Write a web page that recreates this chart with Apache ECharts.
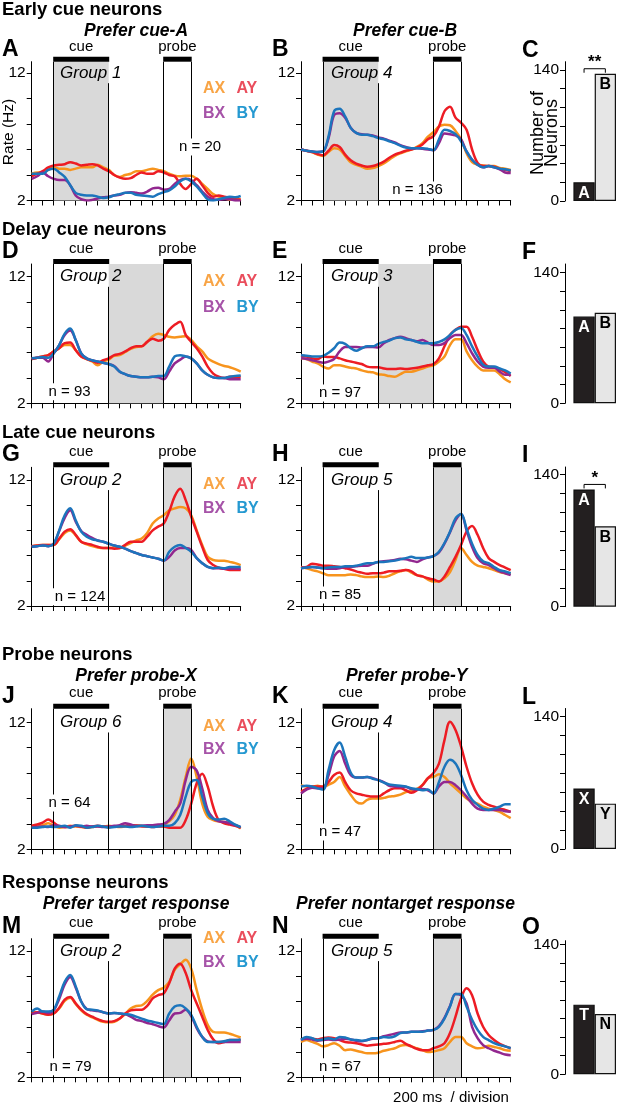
<!DOCTYPE html>
<html><head><meta charset="utf-8">
<script src="https://cdn.jsdelivr.net/npm/echarts@6/dist/echarts.min.js"></script>
<style>html,body{margin:0;padding:0;background:#fff}#c{width:625px;height:1109px}</style>
</head><body><div id="c"></div>
<script>
// ---- time axis (ms from cue onset), 100 ms steps; 200 ms per division
const timeMs = [-400,-300,-200,-100,0,100,200,300,400,500,600,700,800,900,1000,1100,1200,1300,1400,1500,1600,1700,1800,1900,2000,2100,2200,2300,2400,2500,2600,2700,2800,2900,3000,3100,3200,3300,3400];
const cueWindow = [0, 1000];
const probeWindow = [2000, 2500];
const delayWindow = [1000, 2000];
const yTicks = [2,4,6,8,10,12];
const yLabels = [2,12];
const barTicks = [0,20,40,60,80,100,120,140];
const barLabelTicks = [0,140];

// ---- firing rates (Hz): AX, AY, BX, BY
const A_AX=[4.1,4.2,4.2,4.4,4.6,4.5,4.5,4.4,4.5,4.6,4.6,4.6,4.8,4.6,4.4,4.0,3.85,4.0,4.1,4.3,4.3,4.4,4.5,4.4,4.3,4.1,3.95,3.9,3.95,3.95,3.7,3.3,2.9,2.5,2.3,2.2,2.05,2.1,2.1];
const A_AY=[3.9,4.1,4.3,4.6,4.75,4.8,4.85,5.0,4.9,4.75,4.8,4.85,4.75,4.5,4.3,4.0,3.8,3.7,3.75,4.0,4.2,4.1,4.1,4.3,4.2,4.0,3.9,3.3,2.9,3.3,3.7,3.2,2.6,2.3,2.4,2.3,2.2,2.1,2.05];
const A_BX=[3.7,3.9,4.2,3.9,3.7,3.6,3.6,3.2,2.4,2.1,2.0,2.05,2.15,2.25,2.3,2.4,2.45,2.6,2.65,2.6,2.55,2.7,2.95,3.0,2.85,2.9,3.3,3.6,3.7,3.6,3.2,2.7,2.3,2.1,2.05,2.1,2.1,2.0,2.0];
const A_BY=[4.1,4.1,4.1,4.4,4.5,4.2,3.85,3.2,2.6,2.45,2.4,2.4,2.3,2.2,2.25,2.4,2.5,2.6,2.6,2.45,2.4,2.35,2.3,2.5,2.65,2.8,3.1,3.5,3.7,3.5,3.1,2.6,2.1,2.0,2.1,2.2,2.3,2.25,2.35];

const B_AX=[6.0,5.9,5.8,5.6,5.5,5.8,6.1,6.0,5.5,5.0,4.8,4.65,4.5,4.55,4.7,4.9,5.2,5.5,5.7,5.85,6.0,6.2,6.5,7.0,7.35,7.8,7.95,7.9,7.45,6.8,5.7,5.0,4.8,4.75,4.7,4.7,4.55,4.5,4.4];
const B_AY=[6.0,5.9,5.8,5.65,5.55,5.9,6.35,6.2,5.6,5.15,4.9,4.75,4.65,4.7,4.85,5.05,5.35,5.6,5.75,5.9,6.0,6.15,6.4,6.8,7.05,7.8,9.0,9.35,8.5,8.1,7.55,6.0,4.95,4.7,4.7,4.65,4.5,4.4,4.3];
const B_BX=[6.0,5.9,5.85,5.8,5.85,6.9,8.7,8.85,8.5,7.7,7.3,7.2,7.15,7.1,6.95,6.85,6.7,6.55,6.35,6.2,6.1,6.1,6.05,6.0,5.95,6.5,7.25,7.2,7.1,6.8,5.85,5.2,4.8,4.6,4.7,4.6,4.45,4.2,4.15];
const B_BY=[6.0,5.9,5.85,5.8,5.85,7.05,9.0,9.2,8.6,7.7,7.3,7.15,7.15,7.05,6.9,6.8,6.65,6.5,6.3,6.15,6.1,6.1,6.1,6.05,5.95,6.8,7.55,7.45,7.2,6.65,5.85,5.2,4.8,4.6,4.7,4.6,4.5,4.45,4.35];

const D_AX=[5.5,5.6,5.7,5.8,6.1,6.35,6.6,6.6,6.2,5.7,5.5,5.3,5.0,5.3,5.45,5.75,5.8,6.05,6.3,6.45,6.5,6.85,7.3,7.5,7.4,7.25,7.2,7.25,7.3,7.0,6.5,6.1,5.55,5.3,5.1,4.95,4.85,4.7,4.5];
const D_AY=[5.5,5.6,5.7,5.8,6.1,6.35,6.75,6.8,6.2,5.7,5.5,5.35,5.2,5.4,5.55,5.8,5.9,6.1,6.35,6.5,6.5,6.85,7.1,6.95,7.1,7.8,8.2,8.45,7.4,6.85,6.35,5.7,4.9,4.35,4.1,4.0,4.1,4.1,4.1];
const D_BX=[5.55,5.6,5.6,5.3,5.95,6.6,7.4,7.75,7.0,5.95,5.55,5.4,5.3,5.2,5.1,4.95,4.5,4.3,4.15,4.1,4.05,4.05,4.1,4.05,3.9,4.5,5.15,5.45,5.7,5.55,5.15,4.6,4.25,4.05,4.0,4.0,3.9,3.9,3.9];
const D_BY=[5.55,5.6,5.65,5.6,5.95,6.6,7.5,7.9,7.0,5.95,5.55,5.4,5.3,5.2,5.1,4.9,4.5,4.3,4.15,4.1,4.05,4.05,4.1,4.15,4.15,4.9,5.7,5.8,5.7,5.55,5.15,4.6,4.25,4.05,4.0,4.0,4.1,4.15,4.2];

const E_AX=[5.55,5.5,5.3,5.15,4.9,4.75,5.0,5.0,4.9,4.8,4.75,4.6,4.5,4.45,4.3,4.25,4.15,4.1,4.3,4.5,4.5,4.6,4.75,4.9,5.0,5.3,5.7,6.6,7.05,7.05,6.1,5.4,4.9,4.6,4.6,4.6,4.3,3.9,3.65];
const E_AY=[5.75,5.7,5.55,5.5,5.7,5.65,5.65,5.55,5.4,5.3,5.2,5.1,4.9,4.85,4.85,4.75,4.7,4.7,4.75,4.7,4.75,4.8,4.9,5.0,5.1,5.55,6.5,7.4,7.8,8.05,8.05,7.25,6.2,5.3,4.9,4.85,4.7,4.45,4.15];
const E_BX=[5.55,5.5,5.4,5.3,5.2,5.3,5.5,6.1,6.45,6.45,6.45,6.4,6.45,6.45,6.4,6.75,7.0,7.15,7.25,7.15,7.0,6.9,7.0,6.8,6.6,6.6,6.75,7.15,7.4,7.4,6.75,5.95,5.3,4.9,4.8,4.8,4.5,4.25,4.25];
const E_BY=[5.8,5.75,5.7,5.7,5.75,6.0,6.35,6.8,6.7,6.35,6.15,6.35,6.5,6.5,6.7,6.85,6.95,7.15,7.2,7.05,7.0,6.85,6.75,6.75,6.75,6.85,7.05,7.4,7.8,7.95,7.4,6.5,5.7,5.05,4.9,4.9,4.75,4.6,4.35];

const G_AX=[6.75,6.8,6.85,6.85,6.85,7.3,7.8,8.0,7.6,7.1,6.9,6.75,6.65,6.6,6.6,6.65,6.6,6.8,7.0,7.2,7.35,7.8,8.55,8.95,9.2,9.6,9.75,9.85,9.75,9.2,8.0,6.85,5.9,5.65,5.6,5.6,5.5,5.4,5.25];
const G_AY=[6.75,6.8,6.85,6.85,6.85,7.35,7.9,8.1,7.65,7.1,6.95,6.85,6.7,6.6,6.6,6.55,6.6,6.85,7.1,7.1,7.1,7.5,8.0,8.3,8.55,9.5,10.7,11.3,10.4,9.1,7.9,6.7,5.65,5.25,5.05,4.95,4.85,4.85,4.85];
const G_BX=[6.7,6.75,6.8,6.75,6.95,7.95,9.0,9.6,8.7,7.95,7.65,7.4,7.2,7.1,6.95,6.8,6.7,6.55,6.35,6.2,6.05,5.95,5.85,5.75,5.6,5.9,6.4,6.6,6.6,6.45,5.8,5.4,5.1,5.0,5.0,4.95,4.95,4.95,4.95];
const G_BY=[6.7,6.75,6.8,6.75,6.95,8.0,9.2,9.75,8.8,7.9,7.5,7.3,7.2,7.1,6.95,6.8,6.7,6.55,6.35,6.2,6.05,5.95,5.85,5.75,5.6,6.3,6.7,6.85,6.6,6.3,5.8,5.4,5.1,5.0,5.05,5.0,5.1,5.1,5.1];

const H_AX=[5.1,5.0,4.85,4.75,4.6,4.45,4.45,4.45,4.45,4.5,4.45,4.35,4.3,4.3,4.35,4.3,4.4,4.6,4.75,4.85,4.65,4.45,4.35,4.1,3.95,3.95,4.2,4.7,5.65,6.6,6.05,5.5,5.2,5.1,5.0,4.85,4.7,4.6,4.55];
const H_AY=[5.05,5.1,5.35,5.3,5.2,5.2,5.15,5.1,5.0,4.9,4.75,4.65,4.55,4.6,4.6,4.65,4.75,4.75,4.8,4.85,4.75,4.45,4.35,4.2,4.1,3.95,4.35,5.1,5.9,6.85,7.9,8.35,7.65,6.6,5.8,5.5,5.25,5.05,4.85];
const H_BX=[5.0,5.05,5.1,5.05,5.0,4.95,4.95,5.0,5.1,5.1,5.15,5.2,5.2,5.35,5.5,5.55,5.6,5.65,5.75,5.7,5.6,5.5,5.7,5.85,5.95,6.25,6.95,7.85,8.8,9.3,8.0,6.7,5.8,5.4,5.25,5.0,4.75,4.6,4.45];
const H_BY=[5.0,5.05,5.1,5.05,5.0,5.05,5.1,5.1,5.15,5.15,5.2,5.3,5.4,5.4,5.5,5.5,5.55,5.6,5.7,5.8,5.9,5.8,5.8,5.85,5.95,6.3,7.0,7.9,8.95,9.3,8.15,6.95,6.05,5.55,5.4,5.1,4.85,4.75,4.6];

const J_AX=[3.75,3.8,3.9,4.05,3.85,3.7,3.75,3.85,3.8,3.75,3.7,3.75,3.8,3.8,3.85,3.8,3.75,3.8,3.85,3.9,3.85,3.8,3.85,3.9,3.95,4.2,4.7,5.9,7.7,9.15,7.7,5.6,4.55,4.3,4.2,4.15,4.05,3.9,3.65];
const J_AY=[3.85,3.95,4.1,4.35,4.1,3.8,3.75,3.8,3.85,3.8,3.7,3.8,3.85,3.8,3.75,3.8,3.8,3.85,3.9,3.85,3.8,3.8,3.75,3.8,3.8,3.7,3.7,3.7,4.3,5.6,7.2,7.95,6.95,5.35,4.3,4.05,3.95,3.85,3.7];
const J_BX=[3.7,3.75,3.8,3.75,3.9,3.85,3.75,3.8,3.85,3.8,3.85,3.8,3.8,3.75,3.8,3.85,3.9,4.05,3.95,3.85,3.85,3.9,3.9,3.95,4.0,4.3,4.95,5.6,7.45,8.5,8.2,6.8,5.1,4.45,4.2,4.15,4.05,3.9,3.75];
const J_BY=[3.7,3.7,3.75,3.8,3.75,3.8,3.85,3.7,3.9,3.85,3.7,3.75,3.85,3.8,3.7,3.75,3.8,3.8,3.75,3.8,3.85,3.8,3.75,3.8,3.85,3.85,4.05,4.7,6.15,7.3,7.45,6.15,4.85,4.4,4.35,4.4,4.2,3.95,3.75];

const K_AX=[7.05,6.95,6.95,7.0,6.9,7.1,7.3,7.7,6.95,6.3,5.75,5.6,5.9,6.0,6.0,6.05,6.15,6.2,6.3,6.5,6.6,6.75,7.05,7.6,7.7,7.9,7.7,7.2,6.8,6.4,6.0,5.75,5.6,5.35,5.2,5.1,4.95,4.7,4.45];
const K_AY=[6.55,6.75,6.95,6.95,6.95,7.3,7.85,8.05,7.3,6.65,6.4,6.3,6.2,6.15,6.15,6.4,6.65,6.8,6.8,6.65,6.45,6.65,7.05,7.6,8.0,8.75,10.6,12.05,11.4,10.1,8.5,7.2,6.3,5.75,5.5,5.35,5.2,5.1,4.95];
const K_BX=[6.4,6.7,6.85,6.8,6.8,7.85,9.3,9.75,8.75,7.85,7.65,7.65,7.7,7.6,7.45,7.3,7.0,6.95,6.9,6.9,6.75,6.7,6.75,6.65,6.4,6.95,7.3,7.3,7.05,6.65,6.15,5.6,5.2,5.1,5.1,5.1,5.1,5.0,4.95];
const K_BY=[6.95,7.0,6.95,6.8,6.7,8.25,9.8,10.4,9.3,8.05,7.65,7.65,7.7,7.55,7.45,7.25,7.1,7.05,7.0,6.95,6.8,6.75,6.65,6.7,6.4,7.3,8.5,9.05,8.75,7.85,6.65,5.9,5.5,5.2,5.1,5.2,5.35,5.55,5.55];

const M_AX=[7.1,7.15,7.05,6.95,7.05,7.45,8.05,8.3,7.8,7.3,6.95,6.75,6.55,6.4,6.35,6.4,6.65,7.0,7.45,7.65,7.7,8.05,8.55,8.9,9.1,9.55,10.5,10.95,11.3,10.6,8.9,7.35,6.15,5.6,5.55,5.55,5.45,5.3,5.15];
const M_AY=[7.1,7.15,7.05,6.95,7.05,7.5,8.15,8.35,7.85,7.35,7.0,6.8,6.6,6.45,6.4,6.45,6.65,7.05,7.3,7.35,7.35,7.65,8.25,8.5,8.65,9.45,10.6,11.0,10.25,8.9,7.85,6.8,5.75,5.0,4.7,4.8,4.95,4.95,4.95];
const M_BX=[7.0,7.1,7.2,7.1,7.3,8.2,9.35,9.95,9.1,8.0,7.4,7.3,7.25,7.15,7.05,7.1,7.05,7.0,6.8,6.55,6.45,6.3,6.2,6.05,5.95,6.5,7.05,7.1,7.35,6.85,5.9,5.2,4.85,4.8,4.8,4.8,4.8,4.8,4.8];
const M_BY=[7.2,7.45,7.2,7.2,7.35,8.4,9.55,10.1,9.2,8.0,7.4,7.35,7.3,7.15,7.05,7.1,7.05,7.0,6.95,6.8,6.65,6.5,6.4,6.3,6.2,7.05,7.6,7.7,7.45,6.95,6.0,5.2,4.8,4.8,4.8,4.85,4.95,4.95,5.0];

const N_AX=[4.8,4.95,4.8,4.65,4.45,4.55,4.7,4.5,4.15,4.2,4.1,4.0,3.9,3.9,3.95,4.1,4.2,4.3,4.5,4.55,4.45,4.3,4.15,4.0,4.05,4.15,4.3,4.8,5.2,5.2,4.7,4.45,4.3,4.35,4.5,4.4,4.3,4.15,4.1];
const N_AY=[5.0,5.1,5.05,5.0,5.1,5.15,5.1,4.95,4.8,4.75,4.7,4.6,4.5,4.55,4.6,4.65,4.7,4.8,4.9,4.65,4.45,4.25,4.15,4.15,4.3,4.45,4.7,5.5,6.8,8.25,9.05,8.5,7.05,6.0,5.35,4.95,4.65,4.45,4.3];
const N_BX=[5.0,5.05,5.0,4.9,4.95,5.0,4.95,5.0,5.05,5.0,4.9,4.85,4.95,5.05,5.1,5.25,5.35,5.45,5.55,5.55,5.6,5.6,5.65,5.7,5.75,6.05,6.7,7.65,8.6,8.5,7.85,6.0,5.1,4.55,4.3,4.1,3.95,3.8,3.75];
const N_BY=[4.95,5.2,5.1,4.95,5.0,5.1,5.0,5.2,5.15,5.0,4.95,4.9,4.95,5.1,5.1,5.2,5.15,5.25,5.5,5.55,5.6,5.6,5.6,5.7,5.75,6.0,6.65,7.6,8.6,8.6,7.6,6.55,5.75,5.2,4.95,4.7,4.55,4.45,4.3];

// ---- neuron counts
const barC = [20, 136];   const barCLabels = ['A','B'];
const barF = [93, 97];    const barFLabels = ['A','B'];
const barI = [124, 85];   const barILabels = ['A','B'];
const barL = [64, 48];    const barLLabels = ['X','Y'];
const barO = [75, 65];    const barOLabels = ['T','N'];

// ---- layout / style
const FAM = "'Liberation Sans', Arial, Helvetica, sans-serif";
const condNames = ['AX','AY','BX','BY'];
const lineColors = ['#f7941d','#ed1c24','#92278f','#1c75bc'];
const legendColors = ['#f8a445','#ea4d5c','#a653a8','#2599d1'];
const rows = [
  {top:61.7, y12:73, y2:200.5, stimY:47, titleY:10, letterY:50, title:'Early cue neurons', barTop:61.7, bar0:201, bar140:70, legY:[89,113.3]},
  {top:264, y12:276.7, y2:403.3, stimY:249.3, titleY:230, letterY:251.7, title:'Delay cue neurons', barTop:264, bar0:403.3, bar140:272.7, legY:[281.7,307.3]},
  {top:467.3, y12:480, y2:606, stimY:452.3, titleY:433, letterY:455, title:'Late cue neurons', barTop:467, bar0:606.7, bar140:474.3, legY:[485,508.3]},
  {top:708.7, y12:722.3, y2:849.3, stimY:693.3, titleY:655, letterY:696.7, title:'Probe neurons', barTop:708.5, bar0:849, bar140:716.7, legY:[726.7,750]},
  {top:938.7, y12:951, y2:1077.3, stimY:923.3, titleY:883.3, letterY:926.5, title:'Response neurons', barTop:940.7, bar0:1074.3, bar140:944.3, legY:[938.3,962.7]}
];
const panels = [
  {row:0,col:0,letter:'A',d:[A_AX,A_AY,A_BX,A_BY],shade:cueWindow,group:'Group 1',n:'n = 20',nPos:[200,147]},
  {row:0,col:1,letter:'B',d:[B_AX,B_AY,B_BX,B_BY],shade:cueWindow,group:'Group 4',n:'n = 136',nPos:[417.5,190]},
  {row:1,col:0,letter:'D',d:[D_AX,D_AY,D_BX,D_BY],shade:delayWindow,group:'Group 2',n:'n = 93',nPos:[69.5,391.7]},
  {row:1,col:1,letter:'E',d:[E_AX,E_AY,E_BX,E_BY],shade:delayWindow,group:'Group 3',n:'n = 97',nPos:[340,393]},
  {row:2,col:0,letter:'G',d:[G_AX,G_AY,G_BX,G_BY],shade:probeWindow,group:'Group 2',n:'n = 124',nPos:[80,596.7]},
  {row:2,col:1,letter:'H',d:[H_AX,H_AY,H_BX,H_BY],shade:probeWindow,group:'Group 5',n:'n = 85',nPos:[340,595]},
  {row:3,col:0,letter:'J',d:[J_AX,J_AY,J_BX,J_BY],shade:probeWindow,group:'Group 6',n:'n = 64',nPos:[69.5,803]},
  {row:3,col:1,letter:'K',d:[K_AX,K_AY,K_BX,K_BY],shade:probeWindow,group:'Group 4',n:'n = 47',nPos:[340,832]},
  {row:4,col:0,letter:'M',d:[M_AX,M_AY,M_BX,M_BY],shade:probeWindow,group:'Group 2',n:'n = 79',nPos:[70.5,1066.7]},
  {row:4,col:1,letter:'N',d:[N_AX,N_AY,N_BX,N_BY],shade:probeWindow,group:'Group 5',n:'n = 67',nPos:[340,1066.7]}
];
const barPanels = [
  {row:0,letter:'C',v:barC,l:barCLabels,sig:'**'},
  {row:1,letter:'F',v:barF,l:barFLabels,sig:null},
  {row:2,letter:'I',v:barI,l:barILabels,sig:'*'},
  {row:3,letter:'L',v:barL,l:barLLabels,sig:null},
  {row:4,letter:'O',v:barO,l:barOLabels,sig:null}
];
const subtitles = [
  {t:'Prefer cue-A',x:136,y:31},{t:'Prefer cue-B',x:405,y:31},
  {t:'Prefer probe-X',x:136,y:676},{t:'Prefer probe-Y',x:406.7,y:676},
  {t:'Prefer target response',x:136,y:904},{t:'Prefer nontarget response',x:405.5,y:904}
];

const chart = echarts.init(document.getElementById('c'), null, {renderer:'canvas', width:625, height:1109});
const grid=[], xAxis=[], yAxis=[], series=[];

panels.forEach((p, i) => {
  const r = rows[p.row];
  const pxPerHz = (r.y2 - r.y12)/10;
  const ymax = 12 + (r.y12 - r.top)/pxPerHz;
  grid.push({left: p.col ? 301 : 31.7, top: r.top, width: p.col ? 209.7 : 209, height: r.y2 - r.top});
  xAxis.push({type:'value', gridIndex:i, min:-400, max:3400, interval:200,
    axisLine:{show:true, onZero:false, lineStyle:{color:'#000', width:1}},
    axisTick:{show:true, length:5, inside:false, lineStyle:{color:'#000', width:1}},
    axisLabel:{show:false}, splitLine:{show:false}});
  yAxis.push({type:'value', gridIndex:i, min:2, max:ymax,
    axisLine:{show:true, onZero:false, lineStyle:{color:'#000', width:1}},
    axisTick:{show:true, length:5, customValues:yTicks, lineStyle:{color:'#000', width:1}},
    axisLabel:{show:true, customValues:yLabels, color:'#000', fontSize:15.5, fontFamily:FAM, margin:6},
    splitLine:{show:false}});
  // event windows: shading and boundary lines
  series.push({type:'line', xAxisIndex:i, yAxisIndex:i, data:[[timeMs[0], 2]], showSymbol:false, silent:true, z:1,
    lineStyle:{opacity:0},
    markArea:{silent:true, itemStyle:{color:'#d9d9d9'}, data:[[{xAxis:p.shade[0]},{xAxis:p.shade[1]}]]},
    markLine:{silent:true, symbol:['none','none'], label:{show:false}, animation:false,
      lineStyle:{color:'#000', width:1, type:'solid'},
      data:[{xAxis:cueWindow[0]},{xAxis:probeWindow[0]},{xAxis:probeWindow[1]},
            [{coord:[cueWindow[1],2]},{coord:[cueWindow[1],11.2]}]]}
  });
  p.d.forEach((arr, k) => {
    series.push({type:'line', name:condNames[k], xAxisIndex:i, yAxisIndex:i, z:3,
      data: timeMs.map((t, j) => [t, arr[j]]), smooth:0.35, showSymbol:false, silent:true,
      lineStyle:{color:lineColors[k], width:2.5}, itemStyle:{color:lineColors[k]}});
  });
});

barPanels.forEach((b, k) => {
  const r = rows[b.row];
  const gi = panels.length + k;
  const ymax = 140*(r.bar0 - r.barTop)/(r.bar0 - r.bar140);
  grid.push({left:565, top:r.barTop, width:59.4, height:r.bar0 - r.barTop});
  xAxis.push({type:'category', gridIndex:gi, data:[''], axisLine:{show:false}, axisTick:{show:false}, axisLabel:{show:false}});
  yAxis.push({type:'value', gridIndex:gi, min:0, max:ymax,
    axisLine:{show:true, onZero:false, lineStyle:{color:'#000', width:1}},
    axisTick:{show:true, length:5, customValues:barTicks, lineStyle:{color:'#000', width:1}},
    axisLabel:{show:true, customValues:barLabelTicks, color:'#000', fontSize:15.5, fontFamily:FAM, margin:6},
    splitLine:{show:false}});
  const styles = [
    {fill:'#231f20', txt:'#fff'},
    {fill:'#e6e6e6', txt:'#000'}
  ];
  b.v.forEach((val, m) => {
    series.push({type:'bar', xAxisIndex:gi, yAxisIndex:gi, data:[val], barWidth:21.3, barGap:'0%', silent:true,
      itemStyle:{color:styles[m].fill, borderColor:'#111', borderWidth:1.2},
      label:{show:true, position:'insideTop', distance:3, formatter:b.l[m], color:styles[m].txt,
        fontWeight:'bold', fontSize:16, fontFamily:FAM}});
  });
});

chart.setOption({animation:false, backgroundColor:'#fff', grid, xAxis, yAxis, series});

// ---- annotations
const g = [];
function txt(text, x, y, opt) {
  opt = opt || {};
  g.push({type:'text', x, y, z:100, rotation: opt.rot || 0,
    style: Object.assign({text, fill: opt.fill || '#000', font: opt.font || ('15px ' + FAM),
      textAlign: opt.align || 'left', textVerticalAlign: 'middle', align: opt.align || 'left', verticalAlign:'middle'},
      opt.bg ? {backgroundColor:'#fff', padding:[1,2]} : {},
      opt.lh ? {lineHeight: opt.lh} : {})});
}
rows.forEach(r => txt(r.title, 2, r.titleY, {font:'bold 18.5px ' + FAM}));
subtitles.forEach(s => txt(s.t, s.x, s.y, {font:'italic bold 17.5px ' + FAM, align:'center'}));

panels.forEach((p, i) => {
  const r = rows[p.row];
  const c0 = chart.convertToPixel({gridIndex:i}, [cueWindow[0], 2]);
  const c1 = chart.convertToPixel({gridIndex:i}, [cueWindow[1], 2]);
  const p0 = chart.convertToPixel({gridIndex:i}, [probeWindow[0], 2]);
  const p1 = chart.convertToPixel({gridIndex:i}, [probeWindow[1], 2]);
  [[c0[0], c1[0]], [p0[0], p1[0]]].forEach(([a, b]) => {
    g.push({type:'rect', z:90, shape:{x:a - 0.5, y:r.top - 5, width:b - a + 1, height:5}, style:{fill:'#000'}});
  });
  txt('cue', (c0[0] + c1[0])/2, r.stimY, {align:'center'});
  txt('probe', (p0[0] + p1[0])/2, r.stimY, {align:'center'});
  txt(p.letter, p.col ? 272 : 2, r.letterY, {font:'bold 23px ' + FAM});
  txt(p.group, p.col ? 331 : 60, r.y12, {font:'italic 17px ' + FAM});
  txt(p.n, p.nPos[0], p.nPos[1], {align:'center', bg:true});
  if (p.col === 0) {
    const lx = [203, 236.5];
    condNames.forEach((nm, k) => {
      txt(nm, lx[k % 2], r.legY[Math.floor(k/2)], {font:'bold 16px ' + FAM, fill:legendColors[k]});
    });
  }
});

barPanels.forEach((b, k) => {
  const r = rows[b.row];
  const gi = panels.length + k;
  txt(b.letter, 522, r.letterY + 1, {font:'bold 23px ' + FAM});
  if (b.sig) {
    const cx = chart.convertToPixel({gridIndex:gi}, [0, 0])[0];
    const ya = chart.convertToPixel({gridIndex:gi}, [0, b.v[0]])[1];
    const yb = chart.convertToPixel({gridIndex:gi}, [0, b.v[1]])[1];
    const yTop = Math.min(ya, yb) - 5;
    const xa = cx - 10.65, xb = cx + 10.65;
    g.push({type:'polyline', z:90, shape:{points:[[xa, yTop + 4],[xa, yTop],[xb, yTop],[xb, yTop + 4]]},
      style:{stroke:'#000', lineWidth:1, fill:null}});
    txt(b.sig, cx, yTop - 6, {font:'bold 17px ' + FAM, align:'center'});
  }
});

txt('Rate (Hz)', 9, 132, {rot:Math.PI/2, align:'center', font:'normal 15.5px ' + FAM});
txt('Number of\nNeurons', 545, 133, {rot:Math.PI/2, align:'center', font:'18px ' + FAM, lh:14});
txt('200 ms  / division', 451, 1098, {align:'center'});

chart.setOption({graphic:{elements:g}});
</script></body></html>
